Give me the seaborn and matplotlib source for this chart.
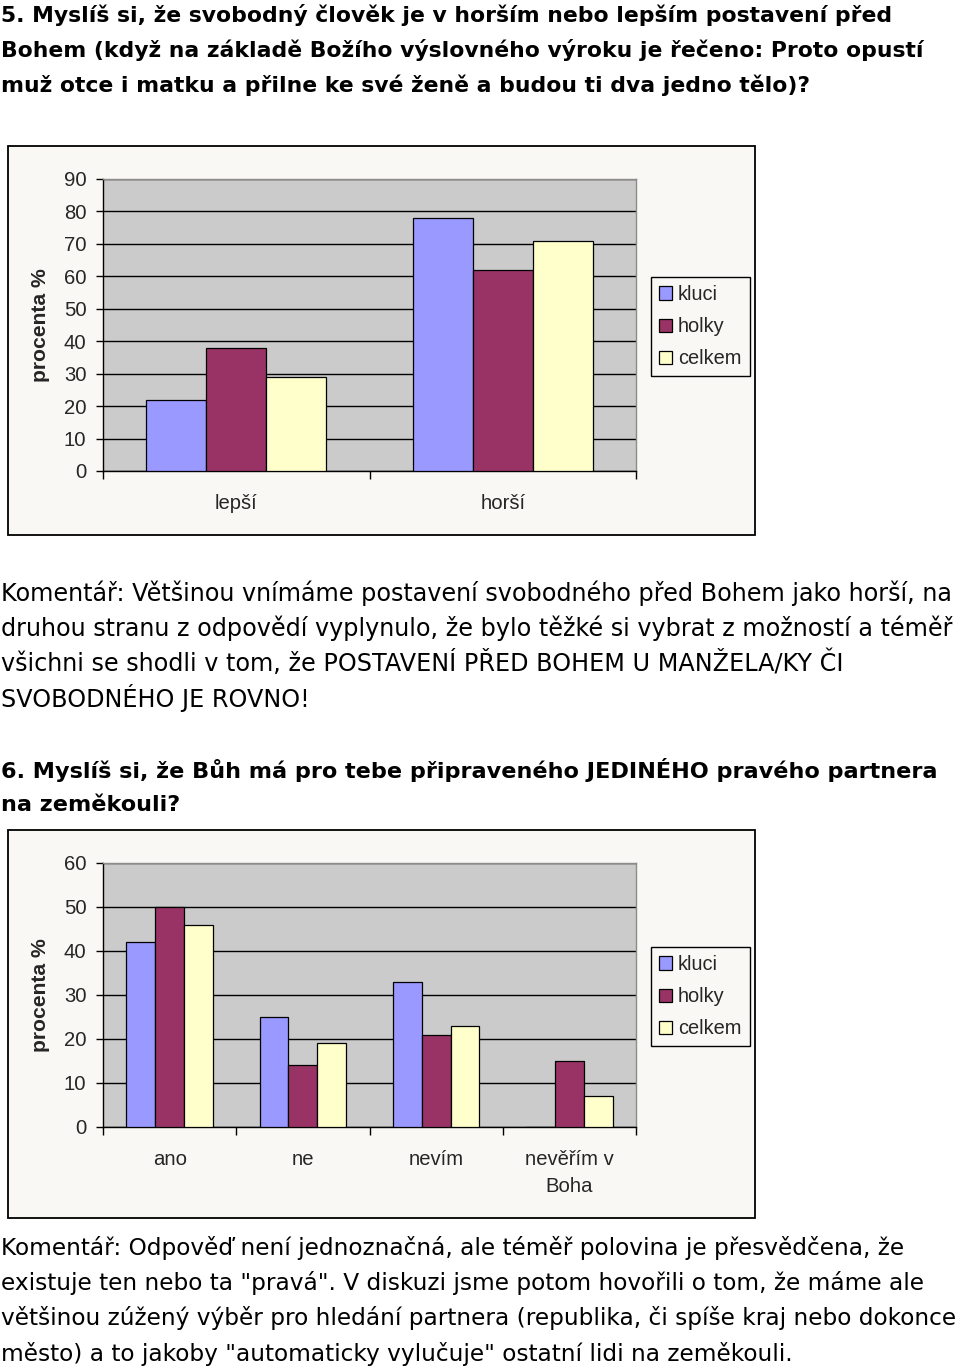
import matplotlib
matplotlib.use("Agg")
import matplotlib.pyplot as plt
from matplotlib.patches import Rectangle, Patch
from matplotlib.ticker import FixedLocator, MultipleLocator
import numpy as np
import pandas as pd
import seaborn as sns

# ---------------- data ----------------
series = ["kluci", "holky", "celkem"]
colors = ["#9999FF", "#993366", "#FFFFCC"]

q5_categories = ["lepší", "horší"]
q5_kluci = [22, 78]
q5_holky = [38, 62]
q5_celkem = [29, 71]

q6_categories = ["ano", "ne", "nevím", "nevěřím v\nBoha"]
q6_kluci = [42, 25, 33, 0]
q6_holky = [50, 14, 21, 15]
q6_celkem = [46, 19, 23, 7]

ylabel = "procenta %"

title5 = ["5. Myslíš si, že svobodný člověk je v horším nebo lepším postavení před",
          "Bohem (když na základě Božího výslovného výroku je řečeno: Proto opustí",
          "muž otce i matku a přilne ke své ženě a budou ti dva jedno tělo)?"]
comment5 = ["Komentář: Většinou vnímáme postavení svobodného před Bohem jako horší, na",
            "druhou stranu z odpovědí vyplynulo, že bylo těžké si vybrat z možností a téměř",
            "všichni se shodli v tom, že POSTAVENÍ PŘED BOHEM U MANŽELA/KY ČI",
            "SVOBODNÉHO JE ROVNO!"]
title6 = ["6. Myslíš si, že Bůh má pro tebe připraveného JEDINÉHO pravého partnera",
          "na zeměkouli?"]
comment6 = ["Komentář: Odpověď není jednoznačná, ale téměř polovina je přesvědčena, že",
            "existuje ten nebo ta \"pravá\". V diskuzi jsme potom hovořili o tom, že máme ale",
            "většinou zúžený výběr pro hledání partnera (republika, či spíše kraj nebo dokonce",
            "město) a to jakoby \"automaticky vylučuje\" ostatní lidi na zeměkouli."]

# ---------------- layout ----------------
W, H = 960, 1371
sns.set_style("white")
plt.rcParams["font.family"] = ["DejaVu Sans"]
fig = plt.figure(figsize=(W / 100, H / 100), dpi=100)
fig.patch.set_facecolor("white")

FRAME_BG = "#F9F8F4"
PLOT_BG = "#CBCBCB"
CHART_FONT = ["Liberation Sans", "DejaVu Sans"]


def fx(x):
    return x / W


def fy(y):
    return 1 - y / H


def frame(x0, y0, x1, y1):
    r = Rectangle((fx(x0), fy(y1)), fx(x1) - fx(x0), fy(y0) - fy(y1),
                  transform=fig.transFigure, facecolor=FRAME_BG,
                  edgecolor="black", lw=1.3, zorder=-5)
    fig.patches.append(r)


def chart(cats, k, h, c, ymax, box, legend_top, width):
    x0, y0, x1, y1 = box
    ax = fig.add_axes([fx(x0), fy(y1), fx(x1) - fx(x0), fy(y0) - fy(y1)])
    df = pd.DataFrame({
        "cat": cats * 3,
        "val": list(k) + list(h) + list(c),
        "grp": [series[0]] * len(cats) + [series[1]] * len(cats) + [series[2]] * len(cats),
    })
    sns.barplot(data=df, x="cat", y="val", hue="grp", order=cats, hue_order=series,
                palette=colors, width=width, edgecolor="black", linewidth=0.9,
                saturation=1, ax=ax, legend=False, zorder=3)
    ax.set_facecolor(PLOT_BG)
    ax.set_ylim(0, ymax)
    ax.set_xlim(-0.5, len(cats) - 0.5)
    ax.yaxis.set_major_locator(MultipleLocator(10))
    ax.grid(axis="y", color="black", lw=1.0, zorder=1)
    ax.set_axisbelow(True)
    ax.yaxis.get_gridlines()[-1].set_visible(False)
    for s in ["top", "right"]:
        ax.spines[s].set_color("#8C8C8C")
        ax.spines[s].set_linewidth(1.0)
    for s in ["left", "bottom"]:
        ax.spines[s].set_color("black")
        ax.spines[s].set_linewidth(1.0)
    ax.tick_params(axis="y", which="major", direction="out", length=5, width=1,
                   color="black", pad=7, labelsize=14.6, left=True)
    ax.xaxis.set_minor_locator(FixedLocator(np.arange(-0.5, len(cats), 1.0)))
    ax.tick_params(axis="x", which="minor", direction="out", length=6, width=1,
                   color="black", bottom=True)
    ax.tick_params(axis="x", which="major", length=0, pad=16.5, labelsize=14.6)
    for lab in ax.get_xticklabels() + ax.get_yticklabels():
        lab.set_family(CHART_FONT)
    for lab in ax.get_xticklabels():
        lab.set_linespacing(1.55)
    ax.set_xlabel("")
    ax.set_ylabel(ylabel, fontsize=15.2, fontweight="bold", family=CHART_FONT)
    ax.yaxis.set_label_coords((50 - x0) / (x1 - x0), 0.5)
    handles = [Patch(facecolor=col, edgecolor="black", lw=0.9) for col in colors]
    leg = fig.legend(handles, series, loc="upper left",
                     bbox_to_anchor=(fx(651), fy(legend_top)), borderaxespad=0,
                     frameon=True, fancybox=False, edgecolor="black",
                     facecolor=FRAME_BG, framealpha=1, handlelength=0.65,
                     handleheight=0.65, handletextpad=0.3, labelspacing=0.66,
                     borderpad=0.4, prop={"family": CHART_FONT, "size": 14.4})
    leg.get_frame().set_linewidth(1.0)
    return ax


def text_block(lines, ys, targets, bold):
    ts = [fig.text(fx(1), fy(y), s, fontsize=20, va="center", ha="left",
                   fontweight="bold" if bold else "normal", color="black",
                   family=["DejaVu Sans"]) for s, y in zip(lines, ys)]
    fig.canvas.draw()
    r = fig.canvas.get_renderer()
    wsum = sum(t.get_window_extent(r).width for t in ts)
    scale = sum(targets) / wsum
    for t in ts:
        t.set_fontsize(20 * scale)


frame(8, 146, 755, 535)
frame(8, 830, 755, 1218)

chart(q5_categories, q5_kluci, q5_holky, q5_celkem, 90, (103, 179, 636, 471), 277, 0.675)
chart(q6_categories, q6_kluci, q6_holky, q6_celkem, 60, (103, 863, 636, 1127), 947, 0.65)

text_block(title5, [15, 50, 85], [889, 909, 817], True)
text_block(comment5, [593, 628, 663, 698], [909, 930, 880, 331], False)
text_block(title6, [770, 805], [949, 167], True)
text_block(comment6, [1248, 1283, 1318, 1354], [907, 922, 957, 796], False)

fig.savefig("out.png", dpi=100, facecolor="white")
